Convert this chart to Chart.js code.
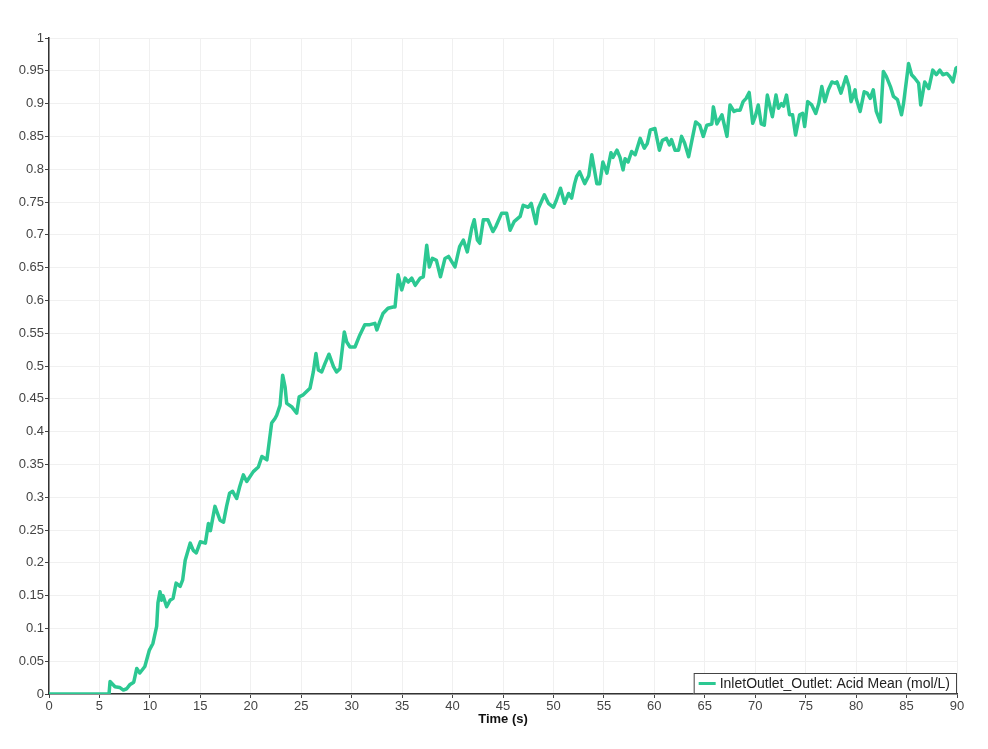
<!DOCTYPE html>
<html lang="en">
<head>
    <meta charset="UTF-8">
    <title>Acid Mean</title>
    <script src="https://cdn.jsdelivr.net/npm/chart.js"></script>
    <style>
        body { margin: 0; background: #fff; }
    </style>
</head>
<body>
    <canvas id="acidChart" width="988" height="749"></canvas>

    <script>
        // time (s) and acid mean (mol/L)
        const times = [0, 5.95, 6.05, 6.54, 7.0, 7.37, 7.7, 8.0, 8.4, 8.7, 9.0, 9.5, 9.95, 10.3, 10.67, 10.8, 11.0, 11.15, 11.3, 11.66,
            12.0, 12.3, 12.6, 13.0, 13.25, 13.5, 14.0, 14.3, 14.6, 15.0, 15.5, 15.8, 16.0, 16.45, 16.95, 17.3, 17.6, 17.9, 18.2, 18.6,
            18.9, 19.26, 19.6, 20.25, 20.75, 21.1, 21.6, 22.07, 22.4, 22.57, 22.9, 23.16, 23.4, 23.56, 24.05, 24.55, 24.8, 25.2, 25.87, 26.2,
            26.46, 26.7, 27.03, 27.36, 27.75, 28.2, 28.5, 28.84, 29.27, 29.5, 29.83, 30.33, 30.8, 31.3, 31.8, 32.3, 32.5, 32.8, 33.1, 33.6,
            34.1, 34.3, 34.6, 34.96, 35.3, 35.6, 35.95, 36.3, 36.8, 37.1, 37.44, 37.7, 38.0, 38.4, 38.8, 39.25, 39.6, 40.24, 40.7, 41.07,
            41.46, 41.9, 42.15, 42.46, 42.7, 43.05, 43.5, 44.0, 44.3, 44.87, 45.36, 45.7, 46.1, 46.7, 47.0, 47.5, 47.8, 48.27, 48.5, 49.1,
            49.5, 50.0, 50.3, 50.7, 51.1, 51.5, 51.8, 52.1, 52.3, 52.6, 53.1, 53.5, 53.8, 54.3, 54.6, 54.9, 55.3, 55.7, 55.9, 56.3,
            56.6, 56.9, 57.1, 57.4, 57.75, 58.1, 58.6, 59.0, 59.3, 59.6, 60.06, 60.5, 60.8, 61.2, 61.5, 61.7, 62.05, 62.4, 62.7, 63.0,
            63.4, 63.7, 64.1, 64.5, 64.85, 65.2, 65.7, 65.85, 66.2, 66.7, 67.2, 67.5, 67.9, 68.2, 68.5, 68.8, 69.1, 69.4, 69.75, 70.0,
            70.3, 70.6, 70.9, 71.2, 71.5, 71.7, 72.06, 72.3, 72.6, 72.8, 73.1, 73.4, 73.7, 74.0, 74.4, 74.7, 74.9, 75.2, 75.6, 76.0,
            76.3, 76.6, 76.9, 77.25, 77.6, 77.9, 78.1, 78.5, 78.8, 79.0, 79.3, 79.5, 79.9, 80.0, 80.4, 80.8, 81.1, 81.4, 81.7, 82.0,
            82.4, 82.7, 83.0, 83.4, 83.7, 84.1, 84.5, 84.7, 85.2, 85.5, 85.8, 86.2, 86.4, 86.8, 87.2, 87.6, 87.95, 88.3, 88.6, 89.0,
            89.3, 89.6, 89.9, 90];
        const acidMean = [0, 0, 0.019, 0.011, 0.010, 0.006, 0.008, 0.014, 0.018, 0.039, 0.032, 0.042, 0.067, 0.077, 0.103, 0.139, 0.156, 0.143, 0.150, 0.133,
            0.143, 0.146, 0.169, 0.164, 0.174, 0.204, 0.230, 0.219, 0.215, 0.232, 0.230, 0.260, 0.249, 0.286, 0.265, 0.262, 0.286, 0.306, 0.309, 0.298,
            0.316, 0.334, 0.324, 0.339, 0.346, 0.362, 0.357, 0.413, 0.420, 0.425, 0.440, 0.486, 0.468, 0.443, 0.438, 0.428, 0.453, 0.456, 0.466, 0.491,
            0.519, 0.494, 0.491, 0.504, 0.518, 0.499, 0.491, 0.496, 0.552, 0.537, 0.529, 0.529, 0.547, 0.563, 0.563, 0.565, 0.555, 0.568, 0.580, 0.588,
            0.590, 0.590, 0.639, 0.616, 0.634, 0.628, 0.634, 0.623, 0.634, 0.636, 0.684, 0.651, 0.664, 0.661, 0.636, 0.664, 0.667, 0.651, 0.682, 0.692,
            0.674, 0.710, 0.723, 0.692, 0.687, 0.723, 0.723, 0.705, 0.713, 0.733, 0.733, 0.707, 0.720, 0.728, 0.745, 0.742, 0.748, 0.717, 0.740, 0.761,
            0.748, 0.742, 0.753, 0.771, 0.748, 0.763, 0.756, 0.778, 0.789, 0.796, 0.778, 0.790, 0.822, 0.778, 0.778, 0.811, 0.794, 0.825, 0.818, 0.829,
            0.818, 0.799, 0.816, 0.811, 0.827, 0.822, 0.847, 0.832, 0.839, 0.860, 0.862, 0.829, 0.844, 0.847, 0.837, 0.845, 0.829, 0.829, 0.850, 0.840,
            0.819, 0.842, 0.872, 0.867, 0.850, 0.867, 0.869, 0.895, 0.869, 0.883, 0.850, 0.898, 0.888, 0.890, 0.890, 0.903, 0.908, 0.917, 0.870, 0.880,
            0.898, 0.869, 0.867, 0.913, 0.893, 0.880, 0.913, 0.893, 0.900, 0.896, 0.913, 0.883, 0.883, 0.852, 0.883, 0.885, 0.865, 0.903, 0.898, 0.885,
            0.900, 0.926, 0.903, 0.921, 0.933, 0.931, 0.933, 0.916, 0.931, 0.941, 0.926, 0.903, 0.921, 0.908, 0.888, 0.918, 0.916, 0.908, 0.921, 0.888,
            0.872, 0.949, 0.941, 0.926, 0.911, 0.906, 0.883, 0.900, 0.961, 0.944, 0.939, 0.931, 0.898, 0.933, 0.923, 0.951, 0.944, 0.951, 0.944, 0.946,
            0.941, 0.933, 0.954, 0.955];

        const seriesLabel = 'InletOutlet_Outlet: Acid Mean (mol/L)';
        const lineColor = 'rgb(44, 200, 146)';
        const fontFamily = '"Liberation Sans", Arial, sans-serif';

        // legende dans le coin bas droit du graphique
        const legendBox = {
            id: 'legendBox',
            afterDraw(chart) {
                const { ctx, chartArea } = chart;
                ctx.save();
                ctx.font = '14px ' + fontFamily;
                const textW = ctx.measureText(seriesLabel).width;
                const w = textW + 33, h = 21;
                const x = chartArea.right - w, y = chartArea.bottom - h;
                ctx.fillStyle = '#fff';
                ctx.fillRect(x, y, w, h);
                ctx.strokeStyle = '#444';
                ctx.lineWidth = 1;
                ctx.strokeRect(x + 0.5, y + 0.5, w - 1, h - 1);
                ctx.strokeStyle = lineColor;
                ctx.lineWidth = 3;
                ctx.beginPath();
                ctx.moveTo(x + 5, y + h / 2);
                ctx.lineTo(x + 22, y + h / 2);
                ctx.stroke();
                ctx.fillStyle = '#222';
                ctx.textBaseline = 'middle';
                ctx.fillText(seriesLabel, x + 26, y + h / 2 + 1);
                ctx.restore();
            }
        };

        const ctx = document.getElementById('acidChart').getContext('2d');
        const chart = new Chart(ctx, {
            type: 'line',
            data: {
                datasets: [{
                    label: seriesLabel,
                    data: times.map((t, i) => ({ x: t, y: acidMean[i] })),
                    borderColor: lineColor,
                    borderWidth: 3.5,
                    borderJoinStyle: 'round',
                    borderCapStyle: 'round',
                    pointRadius: 0,
                    tension: 0,
                    fill: false
                }]
            },
            options: {
                responsive: false,
                animation: false,
                devicePixelRatio: 1,
                layout: { padding: { top: 38, right: 31, left: 0, bottom: 22 } },
                plugins: {
                    legend: { display: false },
                    tooltip: { enabled: false }
                },
                scales: {
                    x: {
                        type: 'linear',
                        min: 0,
                        max: 90,
                        afterFit: (scale) => { scale.height = 33; },
                        ticks: {
                            stepSize: 5,
                            color: '#444',
                            padding: 1,
                            maxRotation: 0,
                            font: { family: fontFamily, size: 13 }
                        },
                        grid: { color: '#f0f0f0', tickColor: '#444', tickLength: 4 },
                        border: { display: true, color: '#333', width: 1.5 },
                        title: {
                            display: true,
                            text: 'Time (s)',
                            color: '#111',
                            padding: { top: 0, bottom: 0 },
                            font: { family: fontFamily, size: 13, weight: 'bold' }
                        }
                    },
                    y: {
                        min: 0,
                        max: 1,
                        afterFit: (scale) => { scale.width = 49; },
                        ticks: {
                            stepSize: 0.05,
                            color: '#444',
                            padding: 1,
                            font: { family: fontFamily, size: 13 },
                            callback: (v) => String(+v.toFixed(2))
                        },
                        grid: { color: '#f0f0f0', tickColor: '#444', tickLength: 4 },
                        border: { display: true, color: '#333', width: 1.5 }
                    }
                }
            },
            plugins: [legendBox]
        });
    </script>
</body>
</html>
